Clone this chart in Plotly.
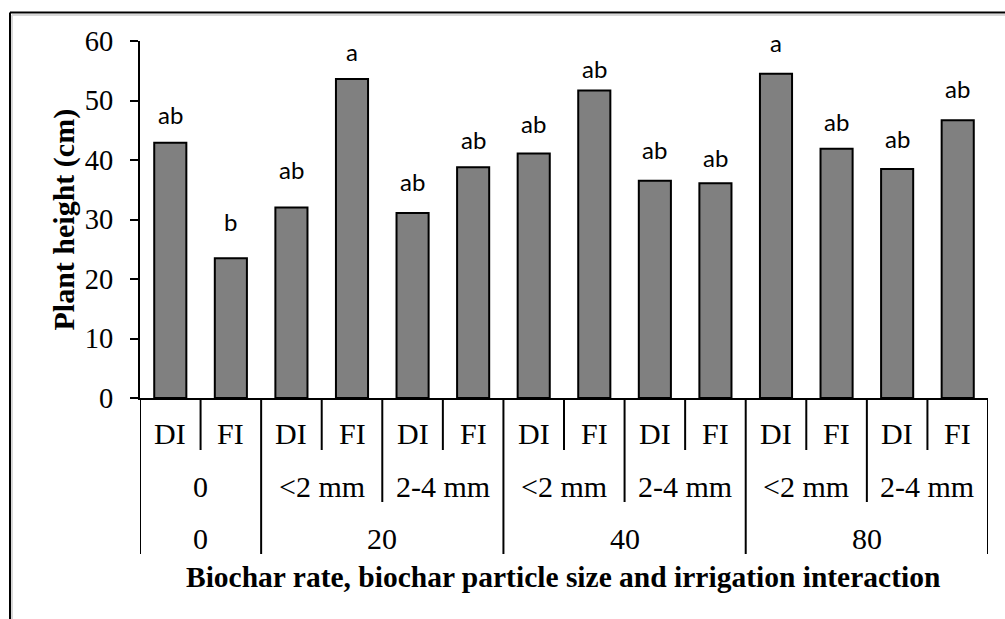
import plotly.graph_objects as go

# ---- data ----
irrigation = ["DI", "FI"] * 7
particle_sizes = ["0", "<2 mm", "2-4 mm", "<2 mm", "2-4 mm", "<2 mm", "2-4 mm"]
particle_spans = [2, 2, 2, 2, 2, 2, 2]
biochar_rates = ["0", "20", "40", "80"]
rate_spans = [2, 4, 4, 4]
plant_height = [42.9, 23.5, 32.0, 53.6, 31.1, 38.8, 41.1, 51.7, 36.5, 36.1, 54.5, 41.9, 38.5, 46.7]
letters = ["ab", "b", "ab", "a", "ab", "ab", "ab", "ab", "ab", "ab", "a", "ab", "ab", "ab"]
letter_heights = [47.6, 29.6, 38.4, 58.2, 36.4, 43.4, 46.1, 55.3, 41.7, 40.4, 59.7, 46.4, 43.6, 52.0]
y_ticks = [0, 10, 20, 30, 40, 50, 60]

# ---- layout geometry (pixels) ----
W_FIG, H_FIG = 1005, 619
L, R, T, B = 140, 17, 41, 221
W = W_FIG - L - R
H = H_FIG - T - B


def px(x):
    return (x - L) / W


def py(y):
    return (T + H - y) / H


SERIF = "Liberation Serif, Times New Roman, serif"
SANS = "Lato, Carlito, Calibri, sans-serif"

xs = list(range(len(plant_height)))

fig = go.Figure()
fig.add_trace(go.Bar(
    x=xs, y=plant_height, width=0.53,
    marker=dict(color="#808080", line=dict(color="black", width=2)),
    showlegend=False, hoverinfo="y",
))

annotations = []
shapes = []


def note(**kw):
    kw.setdefault("showarrow", False)
    kw.setdefault("xanchor", "center")
    kw.setdefault("yanchor", "middle")
    annotations.append(kw)


# significance letters
for x, lt, h in zip(xs, letters, letter_heights):
    note(x=x, y=h, xref="x", yref="y", text=lt,
         font=dict(family=SANS, size=24, color="black"))

# hierarchical category rows
ROW1_Y, ROW2_Y, ROW3_Y = 433, 486, 538
ROW1_B, ROW2_B, ROW3_B = 450, 502, 554
CAT_FONT = dict(family=SERIF, size=30, color="black")
for x, lab in zip(xs, irrigation):
    note(x=x, y=py(ROW1_Y), xref="x", yref="paper", text=lab, font=CAT_FONT)

n = len(xs)
boundary_depth = {i: 1 for i in range(n + 1)}
pos = 0
centers2 = []
for lab, sp in zip(particle_sizes, particle_spans):
    centers2.append((pos + (sp - 1) / 2, lab))
    boundary_depth[pos] = max(boundary_depth[pos], 2)
    pos += sp
    boundary_depth[pos] = max(boundary_depth[pos], 2)
pos = 0
centers3 = []
for lab, sp in zip(biochar_rates, rate_spans):
    centers3.append((pos + (sp - 1) / 2, lab))
    boundary_depth[pos] = 3
    pos += sp
    boundary_depth[pos] = 3

bottoms = {1: ROW1_B, 2: ROW2_B, 3: ROW3_B}
for b, d in boundary_depth.items():
    shapes.append(dict(type="line", xref="x", yref="paper", x0=b - 0.5, x1=b - 0.5,
                       y0=0, y1=py(bottoms[d]), line=dict(color="black", width=2)))

for c, lab in centers2:
    note(x=c, y=py(ROW2_Y), xref="x", yref="paper", text=lab.replace("<", "&lt;"), font=CAT_FONT)
for c, lab in centers3:
    note(x=c, y=py(ROW3_Y), xref="x", yref="paper", text=lab, font=CAT_FONT)

# axis titles
note(x=px(563), y=py(577), xref="paper", yref="paper",
     text="<b>Biochar rate, biochar particle size and irrigation interaction</b>",
     font=dict(family=SERIF, size=29.5, color="black"))
note(x=px(63), y=0.5, xref="paper", yref="paper",
     text="<b>Plant height (cm)</b>", textangle=-90,
     font=dict(family=SERIF, size=30, color="black"))

# outer frame (chart area border, partly cropped)
shapes.append(dict(type="line", xref="paper", yref="paper", x0=px(12), x1=px(1010), y0=py(15), y1=py(15),
                   line=dict(color="#d8d8d8", width=2)))
shapes.append(dict(type="line", xref="paper", yref="paper", x0=px(12), x1=px(12), y0=py(15), y1=py(625),
                   line=dict(color="#d8d8d8", width=2)))
shapes.append(dict(type="line", xref="paper", yref="paper", x0=px(10), x1=px(1010), y0=py(12.5), y1=py(12.5),
                   line=dict(color="black", width=2)))
shapes.append(dict(type="line", xref="paper", yref="paper", x0=px(10), x1=px(10), y0=py(12.5), y1=py(625),
                   line=dict(color="black", width=2)))

fig.update_layout(
    width=W_FIG, height=H_FIG,
    margin=dict(l=L, r=R, t=T, b=B, pad=0),
    paper_bgcolor="white", plot_bgcolor="white",
    annotations=annotations, shapes=shapes,
    xaxis=dict(range=[-0.5, n - 0.5], showticklabels=False, ticks="", showgrid=False, zeroline=False,
               showline=True, linecolor="black", linewidth=2, fixedrange=True),
    yaxis=dict(range=[0, 60], tickvals=y_ticks, ticks="outside", ticklen=8, tickwidth=2,
               tickcolor="black", showline=True, linecolor="black", linewidth=2,
               showgrid=False, zeroline=False, ticklabelstandoff=11,
               tickfont=dict(family=SERIF, size=28.5, color="black"), fixedrange=True),
)

fig.write_html("out.html")
